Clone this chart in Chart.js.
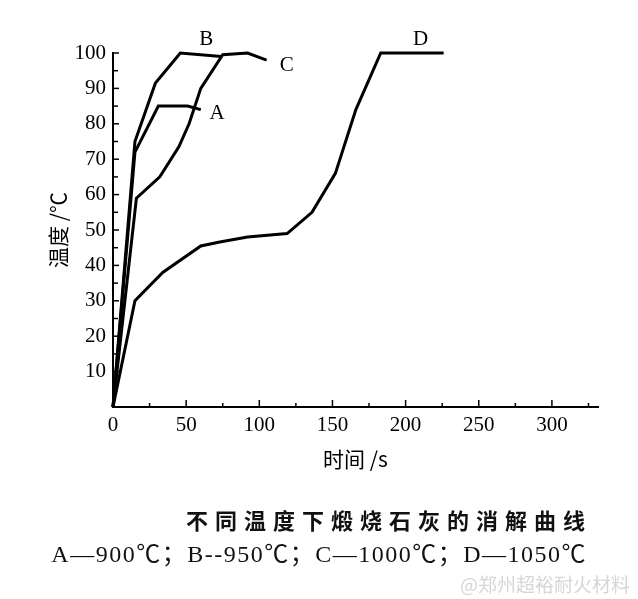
<!DOCTYPE html>
<html>
<head>
<meta charset="utf-8">
<script src="https://cdn.jsdelivr.net/npm/chart.js@4"></script>
<style>
  body { margin: 0; background: #fff; }
  #wrap { position: relative; width: 638px; height: 599px; }
  #caption {
    position: absolute; right: 46px; top: 505px;
    font: bold 22px "Noto Sans CJK SC", sans-serif; line-height: 28px;
    letter-spacing: 7px; color: #111;
  }
  #legendText {
    position: absolute; right: 51px; top: 540px;
    font: 24px "Liberation Serif", "Noto Sans CJK SC", serif; line-height: 28px;
    letter-spacing: 1.5px; color: #111; white-space: pre;
  }
  #mark {
    position: absolute; right: 8px; top: 570px;
    font: 19px "Noto Sans CJK SC", sans-serif; color: #d6d6d6;
  }
</style>
</head>
<body>
<div id="wrap">
  <canvas id="chart"></canvas>
  <div id="caption">不同温度下煅烧石灰的消解曲线</div>
  <div id="legendText">A—900℃；B--950℃；C—1000℃；D—1050℃</div>
  <div id="mark">@郑州超裕耐火材料</div>
</div>
<script>
// -------------------- Data (time in s, temperature in ℃) --------------------
const timeA = [0, 15, 31, 51, 60];
const tempA = [0, 72, 85, 85, 84];

const timeB = [0, 15, 29, 46, 74];
const tempB = [0, 75, 91.5, 100, 99];

const timeC = [0, 16, 32, 45, 52, 60, 75, 92, 105];
const tempC = [0, 59, 65, 73.5, 80, 90, 99.5, 100, 98];

const timeD = [0, 15, 34, 60, 73, 92, 119, 136, 152, 166, 183, 226];
const tempD = [0, 30, 38, 45.5, 46.6, 48, 49, 55, 66, 84, 100, 100];

const curveNames = ["A", "B", "C", "D"];
const nameTime = [66, 59, 114, 205];
const nameTemp = [83, 103.8, 96.6, 103.8];

const xTicks = [0, 50, 100, 150, 200, 250, 300];
const yTicks = [10, 20, 30, 40, 50, 60, 70, 80, 90, 100];

const serif = "'Liberation Serif', 'Times New Roman', serif";
const cjk = "'Noto Sans CJK SC', sans-serif";

function toPoints(ts, vs) {
  return ts.map((t, i) => ({ x: t, y: vs[i] }));
}

// -------------------- Inward ticks and curve names --------------------
const axisMarks = {
  id: "axisMarks",
  afterDraw(chart) {
    const { ctx, scales: { x, y } } = chart;
    ctx.save();
    ctx.strokeStyle = "#000";
    ctx.lineWidth = 1.5;

    const tick = (x1, y1, x2, y2) => {
      ctx.beginPath();
      ctx.moveTo(x1, y1);
      ctx.lineTo(x2, y2);
      ctx.stroke();
    };

    // x-axis ticks point upward
    xTicks.forEach(v => {
      const px = x.getPixelForValue(v);
      if (v > 0) tick(px, y.bottom, px, y.bottom - 7);
      const mid = v + 25;
      if (mid < x.max) {
        const pm = x.getPixelForValue(mid);
        tick(pm, y.bottom, pm, y.bottom - 4);
      }
    });

    // y-axis ticks point right
    [0].concat(yTicks).forEach(v => {
      const py = y.getPixelForValue(v);
      if (v > 0) tick(x.left, py, x.left + 6, py);
      if (v < 100) {
        const pm = y.getPixelForValue(v + 5);
        tick(x.left, pm, x.left + 5, pm);
      }
    });

    ctx.fillStyle = "#000";
    ctx.font = "21px " + serif;
    ctx.textAlign = "left";
    ctx.textBaseline = "middle";
    curveNames.forEach((n, i) => {
      ctx.fillText(n, x.getPixelForValue(nameTime[i]), y.getPixelForValue(nameTemp[i]));
    });
    ctx.restore();
  }
};

// -------------------- Chart --------------------
const lineStyle = {
  borderColor: "#000",
  borderWidth: 3,
  pointRadius: 0,
  tension: 0,
  fill: false,
  clip: false
};

new Chart(document.getElementById("chart"), {
  type: "line",
  data: {
    datasets: [
      { label: "A", data: toPoints(timeA, tempA), ...lineStyle },
      { label: "B", data: toPoints(timeB, tempB), ...lineStyle },
      { label: "C", data: toPoints(timeC, tempC), ...lineStyle },
      { label: "D", data: toPoints(timeD, tempD), ...lineStyle }
    ]
  },
  options: {
    responsive: true,
    maintainAspectRatio: false,
    animation: false,
    layout: { padding: { left: 0, right: 40, top: 53, bottom: 122 } },
    plugins: {
      legend: { display: false },
      tooltip: { enabled: false }
    },
    scales: {
      x: {
        type: "linear",
        min: 0,
        max: 331.5,
        afterBuildTicks: s => { s.ticks = xTicks.map(v => ({ value: v })); },
        afterFit: s => { s.height = 70; },
        grid: { display: false, drawTicks: false },
        border: { display: true, color: "#000", width: 2 },
        ticks: { padding: 6, color: "#000", maxRotation: 0, font: { family: serif, size: 21 } },
        title: {
          display: true,
          text: "时间 /s",
          color: "#000",
          font: { family: cjk, size: 21 },
          padding: { top: 0, bottom: 5 }
        }
      },
      y: {
        type: "linear",
        min: 0,
        max: 100,
        afterBuildTicks: s => { s.ticks = yTicks.map(v => ({ value: v })); },
        afterFit: s => { s.width = 113; },
        grid: { display: false, drawTicks: false },
        border: { display: true, color: "#000", width: 2 },
        ticks: { padding: 7, color: "#000", font: { family: serif, size: 21 } },
        title: {
          display: true,
          text: "温度 /℃",
          color: "#000",
          font: { family: cjk, size: 21 },
          padding: { top: 45, bottom: 0 }
        }
      }
    }
  },
  plugins: [axisMarks]
});
</script>
</body>
</html>
